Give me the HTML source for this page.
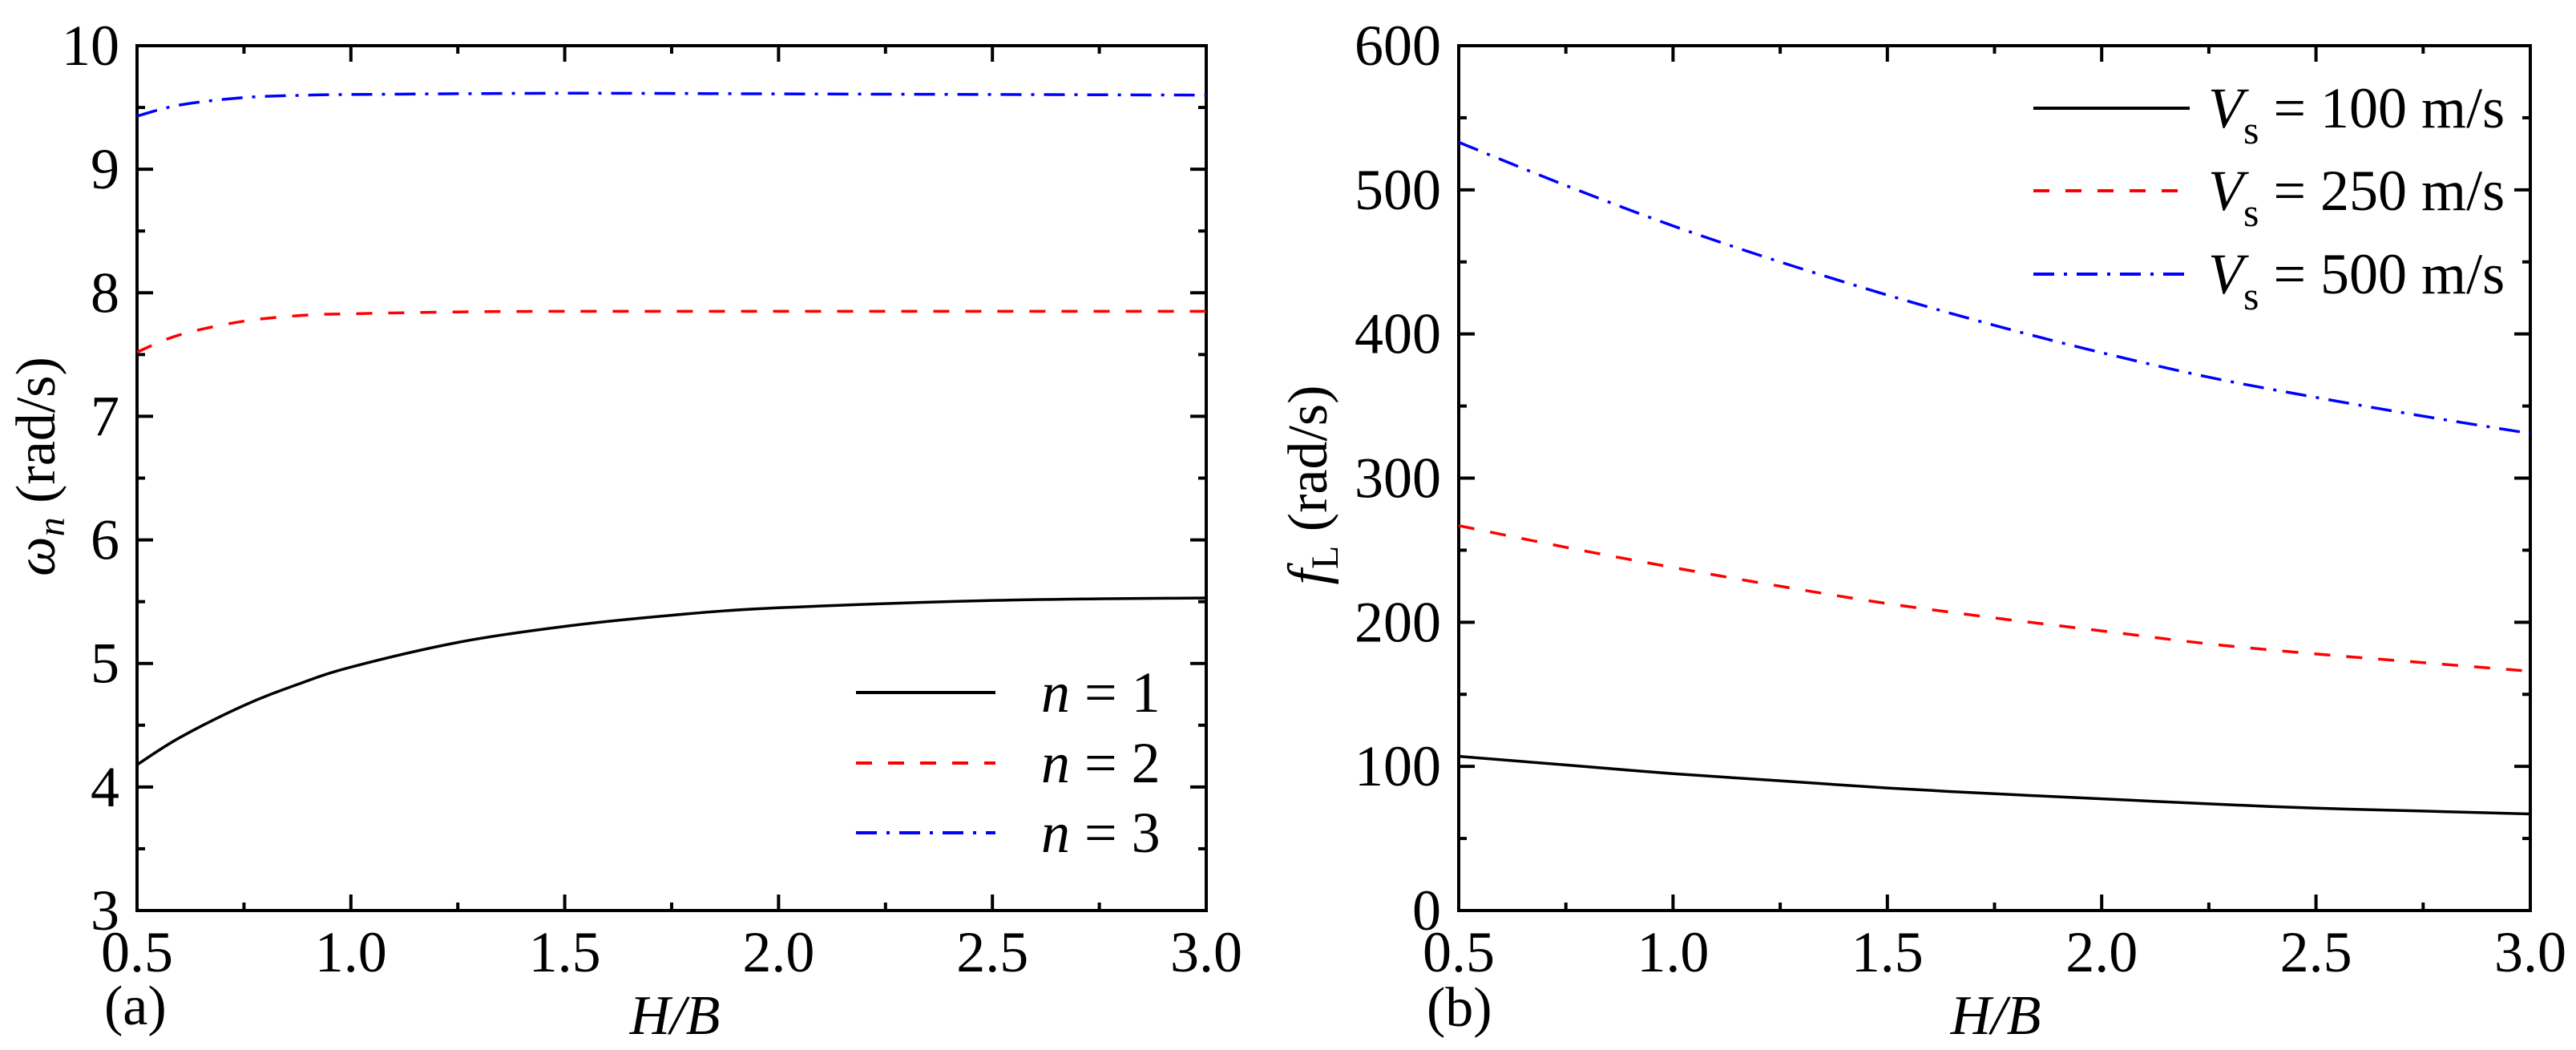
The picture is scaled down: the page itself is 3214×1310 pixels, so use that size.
<!DOCTYPE html>
<html><head><meta charset="utf-8"><style>
html,body{margin:0;padding:0;background:#fff;}
svg{display:block;}
text{font-family:"Liberation Serif","Times New Roman","DejaVu Serif",serif;}
</style></head><body>
<svg id="fig" width="3214" height="1310" viewBox="0 0 3214 1310" xmlns="http://www.w3.org/2000/svg" style="position:absolute;left:0;top:0">
<g id="pa"></g>
<g id="pb"></g>
<text font-family="Liberation Serif, serif" transform="translate(68,582) rotate(-90)" font-size="70" text-anchor="middle"><tspan font-style="italic">ω</tspan><tspan font-style="italic" font-size="48" dy="12">n</tspan><tspan dy="-12"> (rad/s)</tspan></text>
<text font-family="Liberation Serif, serif" transform="translate(1655,605) rotate(-90)" font-size="70" text-anchor="middle"><tspan font-style="italic">f</tspan><tspan font-size="48" dy="14">L</tspan><tspan dy="-14"> (rad/s)</tspan></text>
<text font-family="Liberation Serif, serif" x="842" y="1290" font-size="70" font-style="italic" text-anchor="middle">H/B</text>
<text font-family="Liberation Serif, serif" x="2490" y="1290" font-size="70" font-style="italic" text-anchor="middle">H/B</text>
<text font-family="Liberation Serif, serif" x="130" y="1278" font-size="70">(a)</text>
<text font-family="Liberation Serif, serif" x="1780" y="1280" font-size="70">(b)</text>
</svg>
<script>
// ---- Panel (a) data ----
const xA1 = [0.5,0.6,0.75,0.875,1.0,1.25,1.5,1.75,2.0,2.5,3.0];
const n1 = [4.18,4.40,4.66,4.83,4.97,5.17,5.30,5.39,5.45,5.51,5.53];
const xA2 = [0.5,0.6,0.75,0.9,1.0,1.25,1.5,2.0,2.5,3.0];
const n2 = [7.52,7.66,7.77,7.82,7.83,7.845,7.85,7.85,7.85,7.85];
const xA3 = [0.5,0.6,0.75,0.9,1.0,1.5,2.0,2.5,3.0];
const n3 = [9.43,9.52,9.58,9.60,9.605,9.615,9.61,9.605,9.60];
const yTicksA = ["3","4","5","6","7","8","9","10"];
const xTicks = ["0.5","1.0","1.5","2.0","2.5","3.0"];
// ---- Panel (b) data ----
const xB = [0.5,0.75,1.0,1.25,1.5,1.75,2.0,2.25,2.5,2.75,3.0];
const v100 = [107,101,95,90,85,81,77.5,74,71,69,67];
const v250 = [267,252,238,225,213,203,194,185,178,172,166];
const v500 = [533,503,475,450,427,406,387,370,356,343,331];
const yTicksB = ["0","100","200","300","400","500","600"];

const NS="http://www.w3.org/2000/svg";
const FF="Liberation Serif, serif";
function mk(tag,attrs,parent){const e=document.createElementNS(NS,tag);for(const k in attrs)e.setAttribute(k,attrs[k]);parent.appendChild(e);return e;}

function panel(g,L,R,T,B,ymin,ymax,ystep,yTicks){
  const sx=v=>L+(v-0.5)/(2.5)*(R-L);
  const sy=v=>B-(v-ymin)/(ymax-ymin)*(B-T);
  for(let i=0;i<=10;i++){
    const v=0.5+i*0.25, x=sx(v), len=(i%2==0)?20:10;
    const t1=mk('line',{x1:x,y1:B,x2:x,y2:B-len,stroke:'#000','stroke-width':4},g);
    
    
    mk('line',{x1:x,y1:T,x2:x,y2:T+len,stroke:'#000','stroke-width':4},g);
  }
  const nY=(ymax-ymin)/ystep*2;
  for(let i=0;i<=nY;i++){
    const v=ymin+i*ystep/2, y=sy(v), len=(i%2==0)?20:10;
    const t2=mk('line',{x1:L,y1:y,x2:L+len,y2:y,stroke:'#000','stroke-width':4},g);
    
    
    mk('line',{x1:R,y1:y,x2:R-len,y2:y,stroke:'#000','stroke-width':4},g);
  }
  xTicks.forEach(s=>{
    const t=mk('text',{x:sx(parseFloat(s)),y:1212,'font-size':72,'text-anchor':'middle','font-family':FF},g);
    t.textContent=s;
    
    
  });
  yTicks.forEach(s=>{
    const t=mk('text',{x:L-22,y:sy(parseFloat(s))+24,'font-size':72,'text-anchor':'end','font-family':FF},g);
    t.textContent=s;
    
    
  });
  const fr=mk('rect',{x:L,y:T,width:R-L,height:B-T,fill:'none',stroke:'#000','stroke-width':4},g);
  
  
  return {sx,sy};
}
const styles={solid:{stroke:'#000',dash:''},dash:{stroke:'#ff0000',dash:'20 20'},dashdot:{stroke:'#0000ff',dash:'26 12 4 12'}};
function smoothPath(P){
  let d='M'+P[0][0].toFixed(1)+','+P[0][1].toFixed(1);
  for(let i=0;i<P.length-1;i++){
    const p0=P[i-1]||P[i],p1=P[i],p2=P[i+1],p3=P[i+2]||P[i+1];
    const c1=[p1[0]+(p2[0]-p0[0])/6,p1[1]+(p2[1]-p0[1])/6];
    const c2=[p2[0]-(p3[0]-p1[0])/6,p2[1]-(p3[1]-p1[1])/6];
    d+=' C'+c1.map(v=>v.toFixed(1)).join(',')+' '+c2.map(v=>v.toFixed(1)).join(',')+' '+p2.map(v=>v.toFixed(1)).join(',');
  }
  return d;
}
function series(g,ax,xs,ys,st,name){
  const P=xs.map((x,i)=>[ax.sx(x),ax.sy(ys[i])]);
  const p=mk('path',{d:smoothPath(P),fill:'none',stroke:styles[st].stroke,'stroke-width':3.5,'stroke-dasharray':styles[st].dash,'stroke-linejoin':'round'},g);
  
  
}
function legLine(g,x1,x2,y,st,name){
  const l=mk('line',{x1:x1,y1:y,x2:x2,y2:y,stroke:styles[st].stroke,'stroke-width':4,'stroke-dasharray':styles[st].dash},g);
  
  
}

const ga=document.getElementById('pa');
const axA=panel(ga,171,1505,57,1136,3,10,1,yTicksA);
series(ga,axA,xA1,n1,'solid','line-n1');
series(ga,axA,xA2,n2,'dash','line-n2');
series(ga,axA,xA3,n3,'dashdot','line-n3');
[['solid','1',864],['dash','2',952],['dashdot','3',1039]].forEach(r=>{
  legLine(ga,1068,1242,r[2],r[0],'legend-line-n'+r[1]);
  const t=mk('text',{x:1299,y:r[2]+24,'font-size':72,'font-family':FF},ga);
  t.innerHTML='<tspan font-style="italic">n</tspan> = '+r[1];
  
  
});

const gb=document.getElementById('pb');
const axB=panel(gb,1820,3157,57,1136,0,600,100,yTicksB);
series(gb,axB,xB,v100,'solid','line-vs100');
series(gb,axB,xB,v250,'dash','line-vs250');
series(gb,axB,xB,v500,'dashdot','line-vs500');
[['solid','100',135],['dash','250',238],['dashdot','500',342]].forEach(r=>{
  legLine(gb,2537,2732,r[2],r[0],'legend-line-vs'+r[1]);
  const t=mk('text',{x:2755,y:r[2]+24,'font-size':72,'font-family':FF},gb);
  t.innerHTML='<tspan font-style="italic">V</tspan><tspan font-size="50" dy="20">s</tspan><tspan dy="-20"> = '+r[1]+' m/s</tspan>';
  
  
});
</script>
</body></html>
